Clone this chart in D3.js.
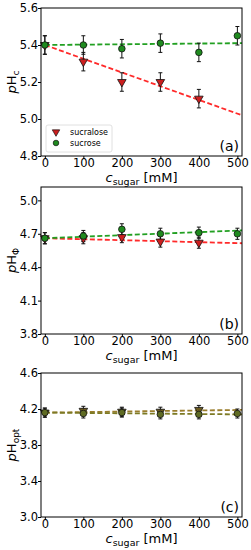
<!DOCTYPE html>
<html>
<head>
<meta charset="utf-8">
<script src="https://cdn.jsdelivr.net/npm/d3@7"></script>
<style>
  body { margin: 0; background: #fff; }
  svg { display: block; font-family: "DejaVu Sans", sans-serif; }
</style>
</head>
<body>
<div id="chart"></div>
<script>
// sugar concentration (mM)
var conc = [0, 100, 200, 300, 400, 500];
var fitX = [0, 512];

// (a) pH_c
var aSucralose = [5.40, 5.31, 5.20, 5.20, 5.11];
var aSucrose = [5.40, 5.40, 5.38, 5.41, 5.36, 5.45];
var aFitSucralose = [5.40, 5.02];
var aFitSucrose = [5.40, 5.41];
var aTicks = [4.8, 5.0, 5.2, 5.4, 5.6];

// (b) pH_phi
var bSucralose = [4.66, 4.66, 4.67, 4.63, 4.62];
var bSucrose = [4.66, 4.68, 4.74, 4.70, 4.71, 4.70];
var bFitSucralose = [4.66, 4.615];
var bFitSucrose = [4.66, 4.73];
var bTicks = [3.8, 4.1, 4.4, 4.7, 5.0];

// (c) pH_opt
var cSucralose = [4.16, 4.18, 4.17, 4.17, 4.19];
var cSucrose = [4.16, 4.15, 4.16, 4.14, 4.14, 4.15];
var cFitSucralose = [4.16, 4.19];
var cFitSucrose = [4.16, 4.14];
var cTicks = [3.0, 3.4, 3.8, 4.2, 4.6];

var errBar = 0.05;
var xTicks = [0, 100, 200, 300, 400, 500];

var panels = [
  {top: 8, bottom: 156, yDomain: [4.8, 5.6], ticks: aTicks, fmt: ".1f", sub: "c", tag: "(a)",
   tri: aSucralose, dot: aSucrose, fitTri: aFitSucralose, fitDot: aFitSucrose,
   triFill: "#cc1f1f", dotFill: "#1f8a1f", triLine: "#ff2a2a", dotLine: "#22a022", legend: true},
  {top: 187, bottom: 334, yDomain: [3.8, 5.12], ticks: bTicks, fmt: ".1f", sub: "\u03a6", tag: "(b)",
   tri: bSucralose, dot: bSucrose, fitTri: bFitSucralose, fitDot: bFitSucrose,
   triFill: "#cc1f1f", dotFill: "#1f8a1f", triLine: "#ff2a2a", dotLine: "#22a022", legend: false},
  {top: 373, bottom: 517, yDomain: [3.0, 4.6], ticks: cTicks, fmt: ".1f", sub: "opt", tag: "(c)",
   tri: cSucralose, dot: cSucrose, fitTri: cFitSucralose, fitDot: cFitSucrose,
   triFill: "#6b5a1e", dotFill: "#5f6b23", triLine: "#9a7d2c", dotLine: "#7d7a24", legend: false}
];

var width = 251, height = 550;
var left = 41, right = 242;

var svg = d3.select("#chart").append("svg")
  .attr("width", width)
  .attr("height", height);

var x = d3.scaleLinear().domain([-10, 512]).range([left, right]);

var triangle = d3.symbol().type(d3.symbolTriangle).size(32);

function drawPanel(p) {
  var y = d3.scaleLinear().domain(p.yDomain).range([p.bottom, p.top]);
  var g = svg.append("g");

  // fit lines
  var line = d3.line()
    .x(function(d, i) { return x(fitX[i]); })
    .y(function(d) { return y(d); });

  g.append("path").datum(p.fitTri)
    .attr("d", line)
    .attr("fill", "none")
    .attr("stroke", p.triLine)
    .attr("stroke-width", 1.8)
    .attr("stroke-dasharray", "5,2.5");

  g.append("path").datum(p.fitDot)
    .attr("d", line)
    .attr("fill", "none")
    .attr("stroke", p.dotLine)
    .attr("stroke-width", 1.8)
    .attr("stroke-dasharray", "5,2.5");

  // error bars
  function errors(vals) {
    var eb = g.append("g").selectAll("g").data(vals).enter().append("g")
      .attr("stroke", "#111")
      .attr("stroke-width", 1);
    eb.append("line")
      .attr("x1", function(d, i) { return x(conc[i]); })
      .attr("x2", function(d, i) { return x(conc[i]); })
      .attr("y1", function(d) { return y(d - errBar); })
      .attr("y2", function(d) { return y(d + errBar); });
    [-1, 1].forEach(function(s) {
      eb.append("line")
        .attr("x1", function(d, i) { return x(conc[i]) - 2; })
        .attr("x2", function(d, i) { return x(conc[i]) + 2; })
        .attr("y1", function(d) { return y(d + s * errBar); })
        .attr("y2", function(d) { return y(d + s * errBar); });
    });
  }
  errors(p.tri);
  errors(p.dot);

  // markers
  g.append("g").selectAll("path").data(p.tri).enter().append("path")
    .attr("d", triangle)
    .attr("transform", function(d, i) { return "translate(" + x(conc[i]) + "," + y(d) + ") rotate(180)"; })
    .attr("fill", p.triFill)
    .attr("stroke", "#111")
    .attr("stroke-width", 0.8);

  g.append("g").selectAll("circle").data(p.dot).enter().append("circle")
    .attr("cx", function(d, i) { return x(conc[i]); })
    .attr("cy", function(d) { return y(d); })
    .attr("r", 3.3)
    .attr("fill", p.dotFill)
    .attr("stroke", "#111")
    .attr("stroke-width", 0.8);

  // frame
  g.append("rect")
    .attr("x", left).attr("y", p.top)
    .attr("width", right - left).attr("height", p.bottom - p.top)
    .attr("fill", "none")
    .attr("stroke", "#000")
    .attr("stroke-width", 1);

  // axes
  var xAxis = d3.axisBottom(x).tickValues(xTicks).tickSize(3).tickPadding(-0.5).tickFormat(d3.format("d"));
  var yAxis = d3.axisLeft(y).tickValues(p.ticks).tickSize(3).tickPadding(0).tickFormat(d3.format(p.fmt));

  var xa = g.append("g").attr("transform", "translate(0," + p.bottom + ")").call(xAxis);
  var ya = g.append("g").attr("transform", "translate(" + left + ",0)").call(yAxis);
  [xa, ya].forEach(function(a) {
    a.select(".domain").remove();
    a.selectAll("text").attr("font-size", 11.5).attr("fill", "#000")
      .attr("font-family", "DejaVu Sans");
    a.selectAll("line").attr("stroke", "#000");
  });

  // x label
  var xl = g.append("text")
    .attr("x", (left + right) / 2)
    .attr("y", p.bottom + 25.5)
    .attr("text-anchor", "middle")
    .attr("font-size", 13);
  xl.append("tspan").attr("font-style", "italic").text("c");
  xl.append("tspan").attr("font-size", 9.5).attr("dy", 3).text("sugar");
  xl.append("tspan").attr("dy", -3).text(" [mM]");

  // y label
  var yl = g.append("text")
    .attr("transform", "translate(16," + ((p.top + p.bottom) / 2) + ") rotate(-90)")
    .attr("text-anchor", "middle")
    .attr("font-size", 13);
  yl.append("tspan").attr("font-style", "italic").text("p");
  yl.append("tspan").text("H");
  yl.append("tspan").attr("font-size", 9).attr("dy", 2.5).text(p.sub);

  // panel tag
  g.append("text")
    .attr("x", right - 3)
    .attr("y", p.bottom - 5)
    .attr("text-anchor", "end")
    .attr("font-size", 14)
    .text(p.tag);

  if (p.legend) {
    var lg = g.append("g");
    lg.append("rect")
      .attr("x", 46).attr("y", 125)
      .attr("width", 66).attr("height", 27)
      .attr("rx", 2)
      .attr("fill", "#fff")
      .attr("fill-opacity", 0.8)
      .attr("stroke", "#d8d8d8")
      .attr("stroke-width", 0.8);
    lg.append("path")
      .attr("d", d3.symbol().type(d3.symbolTriangle).size(24))
      .attr("transform", "translate(56,132) rotate(180)")
      .attr("fill", p.triFill).attr("stroke", "#111").attr("stroke-width", 0.7);
    lg.append("circle")
      .attr("cx", 56).attr("cy", 143).attr("r", 2.8)
      .attr("fill", p.dotFill).attr("stroke", "#111").attr("stroke-width", 0.7);
    lg.append("text").attr("x", 70).attr("y", 135).attr("font-size", 8).text("sucralose");
    lg.append("text").attr("x", 70).attr("y", 146).attr("font-size", 8).text("sucrose");
  }
}

panels.forEach(drawPanel);
</script>
</body>
</html>
